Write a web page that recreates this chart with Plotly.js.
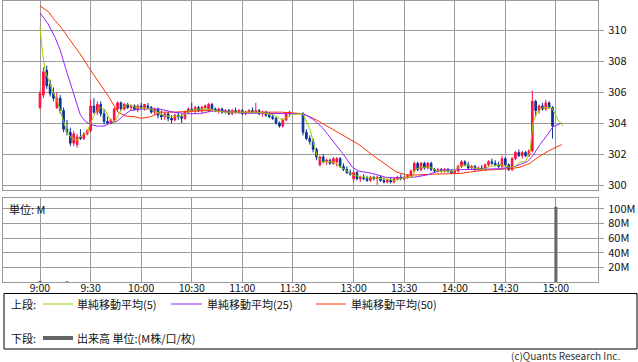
<!DOCTYPE html>
<html><head><meta charset="utf-8">
<script src="https://cdn.plot.ly/plotly-3.0.1.min.js"></script>
<style>html,body{margin:0;padding:0;background:#fff;}#chart{width:638px;height:362px;}</style>
</head><body><div id="chart"></div>
<script>
// ---- DATA (2-minute candles; times as session minutes) ----
// Morning session 9:00-11:28, afternoon 12:30-14:58
const candleOpen = [
 305.0,305.8,307.4,306.5,305.9,305.0,305.6,304.8,303.6,303.4,302.7,302.6,303.1,303.0,303.3,
 303.5,305.1,304.7,305.2,304.6,304.1,304.0,304.2,304.9,305.3,304.9,305.2,305.0,305.1,304.9,
 305.1,305.0,305.1,305.0,304.7,304.9,304.5,304.4,304.6,304.3,304.2,304.5,304.4,304.3,304.7,
 304.9,304.8,305.0,304.8,305.0,304.8,305.2,304.9,304.8,304.9,304.7,304.8,304.6,304.8,304.7,
 304.8,304.6,304.7,304.8,304.7,304.8,304.6,304.7,304.5,304.4,304.3,304.0,303.8,304.2,304.6,
 304.6,303.4,303.0,302.8,302.3,301.3,301.8,301.5,301.6,301.4,301.5,301.7,301.2,301.0,300.8,
 300.4,300.8,300.4,300.5,300.4,300.3,300.5,300.4,300.5,300.3,300.2,300.3,300.2,300.4,300.5,
 300.4,300.5,300.6,300.9,301.4,301.0,301.4,301.1,301.4,301.0,300.9,301.0,300.9,301.0,300.9,
 300.8,300.9,301.2,301.5,301.3,301.1,301.2,301.0,301.1,301.0,301.3,301.5,301.4,301.3,301.2,
 301.7,301.3,301.0,301.7,302.1,301.9,302.1,301.9,302.2,305.4,304.8,305.1,304.9,305.3,305.0];
const candleHigh = [
 306.1,307.6,307.7,306.8,306.3,306.0,305.8,305.0,304.2,303.7,303.5,303.3,303.6,303.4,303.6,
 305.5,305.6,305.4,305.4,304.9,304.4,304.3,305.0,305.4,305.4,305.3,305.3,305.2,305.2,305.2,
 305.3,305.2,305.3,305.1,305.0,305.0,304.8,304.7,304.7,304.5,304.6,304.7,304.6,304.8,305.0,
 305.3,305.1,305.1,305.1,305.2,305.3,305.3,305.0,305.0,305.0,304.9,304.9,304.9,305.0,304.9,
 304.9,304.8,304.9,305.0,305.3,304.9,304.8,304.8,304.7,304.6,304.4,304.1,304.3,304.7,304.8,
 304.7,303.6,303.2,303.0,302.4,301.9,302.0,301.7,301.7,301.8,301.8,301.8,301.4,301.2,301.0,
 300.9,300.9,300.6,300.7,300.6,300.6,300.6,300.6,300.6,300.5,300.4,300.5,300.5,300.6,300.7,
 300.6,300.7,301.0,301.5,301.5,301.5,301.5,301.5,301.5,301.1,301.1,301.1,301.1,301.1,301.0,
 301.0,301.3,301.6,301.6,301.5,301.3,301.3,301.2,301.3,301.4,301.6,301.7,301.6,301.5,301.9,
 301.8,301.4,301.8,302.2,302.3,302.2,302.2,302.3,306.1,305.5,305.2,305.3,305.5,305.4,305.1];
const candleLow = [
 304.9,305.6,306.2,305.7,305.4,304.9,304.6,303.4,303.2,302.5,302.5,302.4,302.9,302.9,303.2,
 303.4,304.6,304.5,304.4,303.9,303.9,303.9,304.0,304.7,304.8,304.8,304.9,304.8,304.8,304.7,
 304.9,304.8,304.9,304.6,304.5,304.3,304.2,304.2,304.1,304.0,304.1,304.2,304.0,304.2,304.6,
 304.7,304.6,304.7,304.6,304.8,304.7,304.8,304.7,304.6,304.6,304.6,304.5,304.5,304.6,304.6,
 304.5,304.5,304.6,304.6,304.6,304.5,304.4,304.4,304.3,304.2,303.9,303.7,303.7,304.1,304.4,
 303.2,302.9,302.6,302.1,301.6,301.2,301.4,301.3,301.3,301.3,301.2,301.1,300.9,300.7,300.6,
 300.2,300.3,300.2,300.3,300.2,300.2,300.3,300.0,300.2,300.1,300.1,300.1,300.1,300.3,300.3,
 300.3,300.4,300.5,300.8,300.9,300.9,301.0,301.0,300.9,300.8,300.8,300.8,300.8,300.8,300.7,
 300.7,300.8,301.1,301.2,301.0,301.0,300.9,300.9,300.9,300.9,301.2,301.3,301.2,301.1,301.1,
 301.2,300.9,300.9,301.6,301.8,301.7,301.8,301.8,302.1,304.4,304.6,304.8,304.8,304.9,303.0];
const candleClose = [
 305.9,307.3,306.4,305.9,305.6,305.6,304.8,303.6,303.4,302.7,303.3,303.1,303.0,303.3,303.5,
 305.1,304.7,305.2,304.6,304.1,304.0,304.2,304.9,305.3,304.9,305.2,305.0,305.1,304.9,305.1,
 305.0,305.2,305.0,304.7,304.9,304.5,304.4,304.6,304.3,304.2,304.5,304.4,304.3,304.7,304.9,
 304.8,305.0,304.8,305.0,305.1,305.2,304.9,304.8,304.9,304.7,304.8,304.6,304.8,304.7,304.8,
 304.6,304.7,304.8,304.7,304.8,304.6,304.7,304.5,304.4,304.3,304.0,303.8,304.2,304.6,304.7,
 303.4,303.0,302.8,302.3,301.8,301.8,301.5,301.6,301.4,301.7,301.7,301.2,301.0,300.8,300.7,
 300.8,300.4,300.5,300.4,300.3,300.5,300.4,300.5,300.3,300.2,300.3,300.2,300.4,300.5,300.4,
 300.5,300.6,300.9,301.4,301.0,301.4,301.1,301.4,301.0,300.9,301.0,300.9,301.0,300.9,300.8,
 300.9,301.2,301.5,301.3,301.1,301.2,301.0,301.1,301.0,301.3,301.5,301.4,301.3,301.2,301.7,
 301.3,301.0,301.7,302.1,301.9,302.1,301.9,302.2,305.4,304.8,305.1,304.9,305.3,305.0,303.8];

// Moving averages (session minutes, price)
const ma5Pos = [0,1.5,3,5,8,10,12,14,16,19,22,25,28,30,33,36,39,41,44,46,49,52,57,62,66,71,75,79,85,89,94,99,104,109,119,129,135,139,142,144,147,149,
 156,157.5,160.4,162.2,164.6,167.5,173.5,179.4,185.3,191.2,198.9,204.8,210.7,216.7,220.8,222.6,225.6,231.4,235.6,245,249.2,253.3,256.9,262.8,266.9,272.9,278.8,281.7,284.7,287.7,290.6,292.4,294.8,298.3,303.6,305.4,307.2,310.1];
const ma5 = [310.2,308.5,307.4,306.8,305.9,305.5,304.8,304.0,303.4,303.0,302.9,303.2,303.4,304.0,304.7,305.0,304.8,304.3,304.0,304.4,305.0,305.2,305.0,304.95,304.9,304.6,304.45,304.4,304.5,304.8,304.9,304.9,304.8,304.7,304.7,304.7,304.6,304.5,304.3,304.2,304.4,304.55,
 304.6,304.2,303.5,302.7,301.8,301.5,301.5,301.1,300.65,300.5,300.45,300.4,300.3,300.5,300.5,301.0,301.15,301.15,300.9,300.9,301.2,301.3,301.1,301.0,301.2,301.3,301.15,301.2,301.5,301.5,302.1,304.0,304.7,305.0,305.0,304.6,304.2,303.8];
const ma25Pos = [0,4.8,9,12,15,18,21,24,27,30,34,38,41.7,45.6,49.6,53.6,60,71,79,87,95,103,119,135,147,
 156,162,167.5,173.5,179.4,185.3,189,197,205,212.5,217.5,221.5,229.8,237.4,253.3,272.9,281.7,285.3,288.9,292.4,296.5,300.7,304.2,309.5];
const ma25 = [311.1,310.4,309.5,308.7,307.6,306.6,305.5,304.5,304.1,303.9,303.8,303.8,304.0,304.1,304.5,304.8,304.9,304.9,304.7,304.6,304.6,304.8,304.65,304.6,304.6,
 304.6,304.25,303.7,302.9,302.05,301.15,300.9,300.75,300.5,300.45,300.5,300.5,300.65,300.95,301.0,301.05,301.2,301.35,301.5,301.9,302.6,303.2,303.75,304.0];
const ma50Pos = [0,4.8,9,13,16.9,20.8,24.8,28.8,32.7,36.7,40.7,44.6,46.4,50.6,56.5,60,65.5,71.4,79,99,119,143,149,
 156,163.9,171.6,181.6,189.3,197.6,205.3,211.2,217.2,223,233.6,249.2,262.8,278.8,284.7,290.6,294.8,298.3,302.5,307.2,309.5];
const ma50 = [311.55,311.2,310.6,310.1,309.5,308.9,308.3,307.6,307.0,306.3,305.7,305.0,304.7,304.45,304.4,304.3,304.4,304.7,304.7,304.8,304.7,304.7,304.65,
 304.6,304.2,303.7,303.1,302.6,301.9,301.3,300.85,300.65,300.65,300.7,300.75,300.95,301.05,301.15,301.4,301.75,302.0,302.25,302.5,302.6];

// Volume (millions)
const volTimes = ['9:00','9:16','15:00'];
const volValues = [1.4, 1.0, 103];

const tickLabels = ['9:00','9:30','10:00','10:30','11:00','11:30','13:00','13:30','14:00','14:30','15:00'];
const priceTicks = [300,302,304,306,308,310];
const volTicks = [20,40,60,80,100];

// ---- helpers ----
// session position: minutes from 9:00; afternoon (from 12:30) placed after a short gap
function toPos(t){
  const [h,m] = t.split(':').map(Number); const mins = h*60+m;
  if (mins <= 11*60+30) return mins - 9*60;
  return 156 + (mins - (12*60+30));
}
const candleTimes = [];
for (let m = 0; m < 150; m += 2) candleTimes.push(m);
for (let m = 0; m < 150; m += 2) candleTimes.push(156 + m);

const W = 638, H = 362, L = 3, R = 598, T = 1, B = 282;
const px = x => (x - L) / (R - L);
const py = y => (B - y) / (B - T);
const FONT = '"Noto Sans CJK JP", "Noto Sans", sans-serif';
const GRID = '#9a9a9a';

const traces = [
  {type:'candlestick', x:candleTimes, open:candleOpen, high:candleHigh, low:candleLow, close:candleClose,
   xaxis:'x', yaxis:'y', whiskerwidth:0, hoverinfo:'skip', showlegend:false,
   increasing:{line:{color:'#ff1040', width:1}, fillcolor:'#ff1040'},
   decreasing:{line:{color:'#0a3399', width:1}, fillcolor:'#0a3399'}},
  {type:'scatter', mode:'lines', x:ma50Pos, y:ma50, xaxis:'x', yaxis:'y', line:{color:'#ff3300', width:1}, hoverinfo:'skip', showlegend:false},
  {type:'scatter', mode:'lines', x:ma25Pos, y:ma25, xaxis:'x', yaxis:'y', line:{color:'#9922ff', width:1}, hoverinfo:'skip', showlegend:false},
  {type:'scatter', mode:'lines', x:ma5Pos, y:ma5, xaxis:'x', yaxis:'y', line:{color:'#99cc00', width:1}, hoverinfo:'skip', showlegend:false},
  {type:'bar', x:volTimes.map(toPos), y:volValues, xaxis:'x2', yaxis:'y2', width:1.8, marker:{color:'#666666', line:{width:0}}, hoverinfo:'skip', showlegend:false}
];

const xRange = [(L-40)/1.686, (R-40)/1.686];
const tickPos = tickLabels.map(toPos);
const common = {showgrid:true, gridcolor:GRID, gridwidth:1, showline:true, mirror:true, linecolor:GRID, linewidth:1, zeroline:false, fixedrange:true};

const layout = {
  width:W, height:H, margin:{l:L, r:W-R, t:T, b:H-B, pad:0},
  paper_bgcolor:'#fff', plot_bgcolor:'#fff', showlegend:false,
  font:{family:FONT, size:11, color:'#111'},
  xaxis: Object.assign({}, common, {anchor:'y', range:xRange, tickvals:tickPos, showticklabels:false, ticks:'', rangeslider:{visible:false}}),
  yaxis: Object.assign({}, common, {domain:[py(190), 1], anchor:'x', side:'right', range:[300-5/15.5, 300-5/15.5+189/15.5], tickvals:priceTicks, ticks:'outside', ticklen:5, tickcolor:GRID, ticklabelstandoff:2}),
  xaxis2: Object.assign({}, common, {anchor:'y2', range:xRange, tickvals:tickPos, ticktext:tickLabels, ticks:'', ticklabelstandoff:-4, tickfont:{size:10.5}}),
  yaxis2: Object.assign({}, common, {domain:[0, py(198)], anchor:'x2', side:'right', range:[0,115], tickvals:volTicks, ticktext:volTicks.map(v=>v+'M'), ticks:'outside', ticklen:5, tickcolor:GRID, ticklabelstandoff:2}),
  shapes: [
    {type:'rect', xref:'paper', yref:'paper', x0:px(4), x1:px(637), y0:py(293.5), y1:py(349), line:{color:'#000', width:1}},
    {type:'line', xref:'paper', yref:'paper', x0:px(43), x1:px(73), y0:py(304), y1:py(304), line:{color:'#99cc00', width:1}},
    {type:'line', xref:'paper', yref:'paper', x0:px(171), x1:px(202), y0:py(304), y1:py(304), line:{color:'#9922ff', width:1}},
    {type:'line', xref:'paper', yref:'paper', x0:px(316), x1:px(346), y0:py(304), y1:py(304), line:{color:'#ff3300', width:1}},
    {type:'line', xref:'paper', yref:'paper', x0:px(43), x1:px(73), y0:py(338), y1:py(338), line:{color:'#666666', width:4}}
  ],
  annotations: [
    {text:'単位: M', x:px(8), y:py(209), xanchor:'left', yanchor:'middle'},
    {text:'上段:', x:px(10), y:py(304), xanchor:'left', yanchor:'middle'},
    {text:'単純移動平均(5)', x:px(76), y:py(304), xanchor:'left', yanchor:'middle'},
    {text:'単純移動平均(25)', x:px(206), y:py(304), xanchor:'left', yanchor:'middle'},
    {text:'単純移動平均(50)', x:px(350), y:py(304), xanchor:'left', yanchor:'middle'},
    {text:'下段:', x:px(10), y:py(338), xanchor:'left', yanchor:'middle'},
    {text:'出来高 単位:(M株/口/枚)', x:px(76), y:py(338), xanchor:'left', yanchor:'middle'},
    {text:'(c)Quants Research Inc.', x:px(621), y:py(355), xanchor:'right', yanchor:'middle', font:{size:10, color:'#333'}}
  ].map(a => Object.assign({xref:'paper', yref:'paper', showarrow:false, borderpad:0, font:{size:11, color:'#111'}}, a))
};

Plotly.newPlot('chart', traces, layout, {staticPlot:true, displayModeBar:false});
</script></body></html>
